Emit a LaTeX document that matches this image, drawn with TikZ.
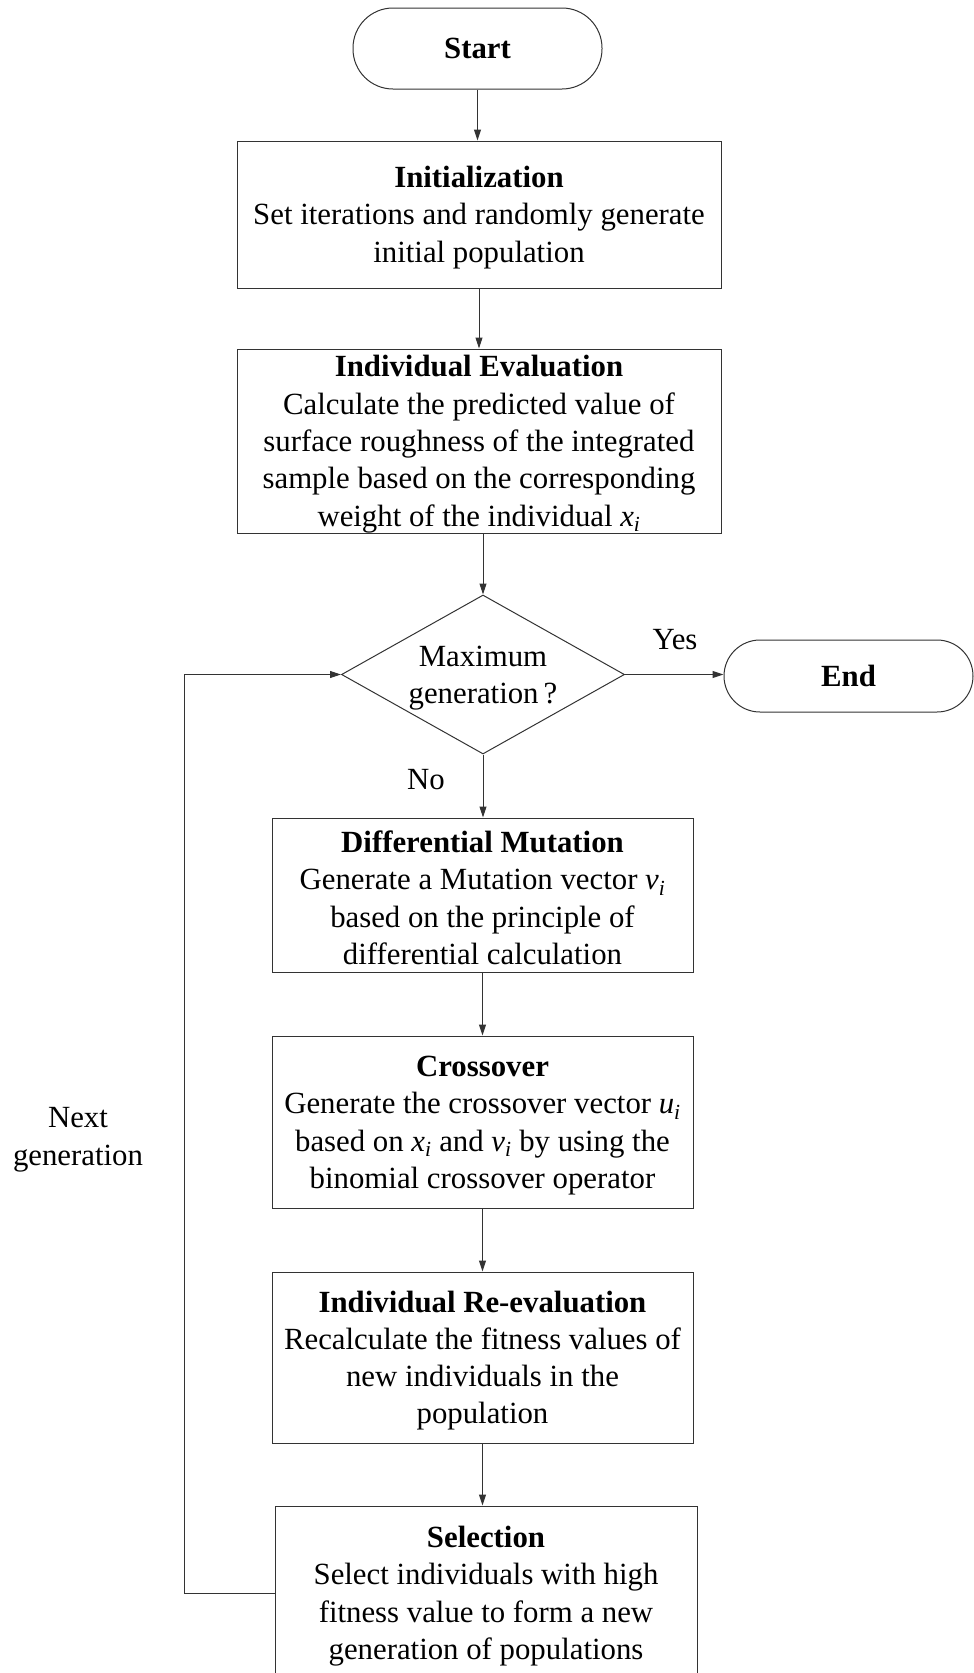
\documentclass[tikz,border=0pt]{standalone}
\usepackage{fontspec}
\setmainfont{Liberation Serif}
\usetikzlibrary{shapes.geometric,arrows.meta}
\newcommand\mytopstrut{\rule{0pt}{27.5pt}}
\begin{document}
\begin{tikzpicture}[x=1pt,y=-1pt,
  every node/.style={font=\fontsize{30.8}{37.3}\selectfont, text=black},
  box/.style={draw=black!80, line width=1pt, align=center, inner sep=0pt},
  term/.style={box},
  decision/.style={draw=black!80, line width=1pt, shape=diamond, aspect=1.78, inner sep=0pt, align=center, minimum width=283pt, minimum height=159pt},
  arr/.style={draw=black!80, line width=1pt, -{Triangle[length=11pt,width=7pt]}},
  lbl/.style={align=center}]
\clip (0,0) rectangle (974,1673);
\node[term, rounded corners=40pt, minimum width=249pt, minimum height=81pt] (start) at (477.5,48.5) {\textbf{Start}};
\node[box, minimum width=484pt, minimum height=147pt] (init) at (479,214.5)
  {\mytopstrut\textbf{Initialization}\\Set iterations and randomly generate\\initial population};
\node[box, minimum width=484pt, minimum height=184pt] (eval) at (479,441)
  {\mytopstrut\textbf{Individual Evaluation}\\Calculate the predicted value of\\surface roughness of the integrated\\sample based on the corresponding\\weight of the individual \textit{x}\textsubscript{\textit{i}}};
\node[decision] (dia) at (483,674.5) {\mytopstrut Maximum\\generation\,?};
\node[term, rounded corners=36pt, minimum width=249pt, minimum height=72pt] (end) at (848.5,676) {\textbf{End}};
\node[box, minimum width=421pt, minimum height=154pt] (dm) at (482.5,895)
  {\mytopstrut\textbf{Differential Mutation}\\Generate a Mutation vector \textit{v}\textsubscript{\textit{i}}\\based on the principle of\\differential calculation};
\node[box, minimum width=421pt, minimum height=172pt] (cross) at (482.5,1122)
  {\mytopstrut\textbf{Crossover}\\Generate the crossover vector \textit{u}\textsubscript{\textit{i}}\\based on \textit{x}\textsubscript{\textit{i}} and \textit{v}\textsubscript{\textit{i}} by using the\\binomial crossover operator};
\node[box, minimum width=421pt, minimum height=171pt] (reeval) at (482.5,1357.5)
  {\mytopstrut\textbf{Individual Re-evaluation}\\Recalculate the fitness values of\\new individuals in the\\population};
\node[box, minimum width=422pt, minimum height=174pt] (sel) at (486,1593)
  {\mytopstrut\textbf{Selection}\\Select individuals with high\\fitness value to form a new\\generation of populations};
\node[lbl] (yes) at (675,640) {Yes};
\node[lbl] (no) at (426,780) {No};
\node[lbl] (next) at (78,1136) {\mytopstrut Next\\generation};
\draw[arr] (start.south) -- (start.south |- init.north);
\draw[arr] (init.south) -- (init.south |- eval.north);
\draw[arr] (eval.south -| dia.north) -- (dia.north);
\draw[arr] (dia.east) -- (dia.east -| end.west);
\draw[arr] (dia.south) -- (dia.south |- dm.north);
\draw[arr] (dm.south) -- (cross.north);
\draw[arr] (cross.south) -- (reeval.north);
\draw[arr] (reeval.south) -- (reeval.south |- sel.north);
\draw[arr] (sel.west) -- ++(-90,0) |- (dia.west);
\end{tikzpicture}
\end{document}
